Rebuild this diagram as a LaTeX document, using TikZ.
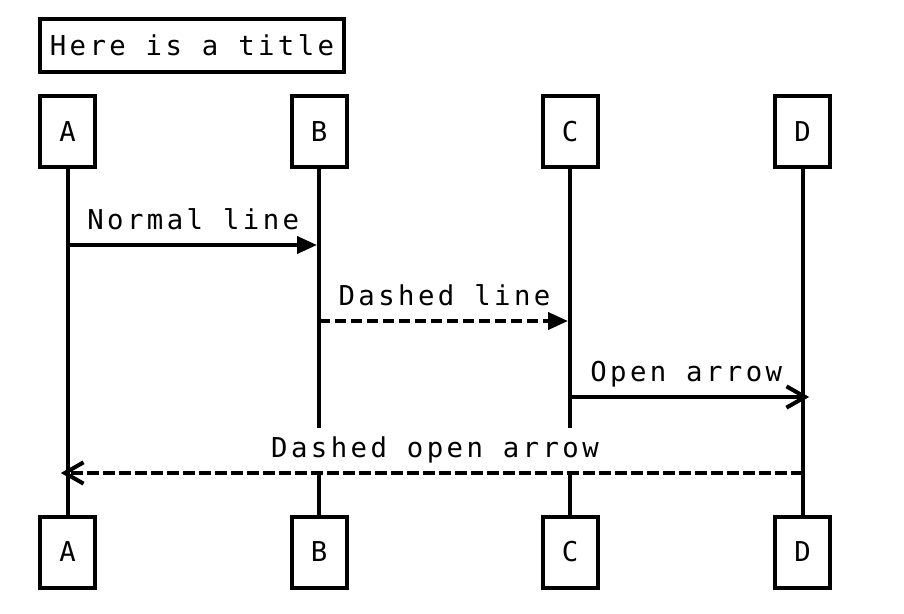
\documentclass[tikz,border=0pt]{standalone}
\usepackage{fontspec}
\newfontfamily\seqfont[LetterSpace=12.5]{DejaVu Sans Mono}
\usetikzlibrary{arrows.meta,calc}
\begin{document}
\begin{tikzpicture}[x=0.75pt,y=-0.75pt,
  every node/.style={font=\seqfont\fontsize{20.5pt}{24pt}\selectfont},
  box/.style={draw=black,line width=3pt,fill=white,inner sep=0pt,minimum width=41.25pt,minimum height=53.25pt},
  titlebox/.style={draw=black,line width=3pt,inner sep=0pt,minimum width=228pt,minimum height=39.75pt},
  life/.style={line width=3pt},
  msg/.style={line width=3pt},
  dashmsg/.style={line width=3pt,dash pattern=on 8.5pt off 3.5pt},
  filled/.style={-{Triangle[length=15pt,width=12.75pt]},shorten >=1.5pt},
  open/.style={-{Straight Barb[length=14pt,width=16pt]},shorten >=-5pt},
  lbl/.style={anchor=base,fill=white,inner xsep=2pt,inner ysep=6pt}]
\useasboundingbox (0,0) rectangle (904,614);
\node[titlebox] (title) at (192,45.5) {Here is a title};
\node[box] (At) at (67.5,131.5) {A};
\node[box] (Bt) at (319,131.5) {B};
\node[box] (Ct) at (570,131.5) {C};
\node[box] (Dt) at (802.5,131.5) {D};
\node[box] (Ab) at (67.5,552) {A};
\node[box] (Bb) at (319,552) {B};
\node[box] (Cb) at (570,552) {C};
\node[box] (Db) at (802.5,552) {D};
\draw[life] (At.south) -- (Ab.north);
\draw[life] (Bt.south) -- (Bb.north);
\draw[life] (Ct.south) -- (Cb.north);
\draw[life] (Dt.south) -- (Db.north);
% message endpoints
\coordinate (m1a) at (At.south |- 0,245);
\coordinate (m1b) at (Bt.south |- 0,245);
\coordinate (m2a) at (Bt.south |- 0,321);
\coordinate (m2b) at (Ct.south |- 0,321);
\coordinate (m3a) at (Ct.south |- 0,397);
\coordinate (m3b) at (Dt.south |- 0,397);
\coordinate (m4a) at (Dt.south |- 0,473);
\coordinate (m4b) at (At.south |- 0,473);
% labels
\node[lbl] (l1) at ($(m1a)!0.5!(m1b)+(0,-16)$) {Normal line};
\node[lbl] (l2) at ($(m2a)!0.5!(m2b)+(0,-16)$) {Dashed line};
\node[lbl] (l3) at ($(m3a)!0.5!(m3b)+(0,-16)$) {Open arrow};
\node[lbl] (l4) at ($(m4a)!0.5!(m4b)+(0,-16)$) {Dashed open arrow};
% arrows
\draw[msg,filled] (m1a) -- (m1b);
\draw[dashmsg,filled] (m2a) -- (m2b);
\draw[msg,open] (m3a) -- (m3b);
\draw[dashmsg,open] (m4a) -- (m4b);
\end{tikzpicture}
\end{document}
